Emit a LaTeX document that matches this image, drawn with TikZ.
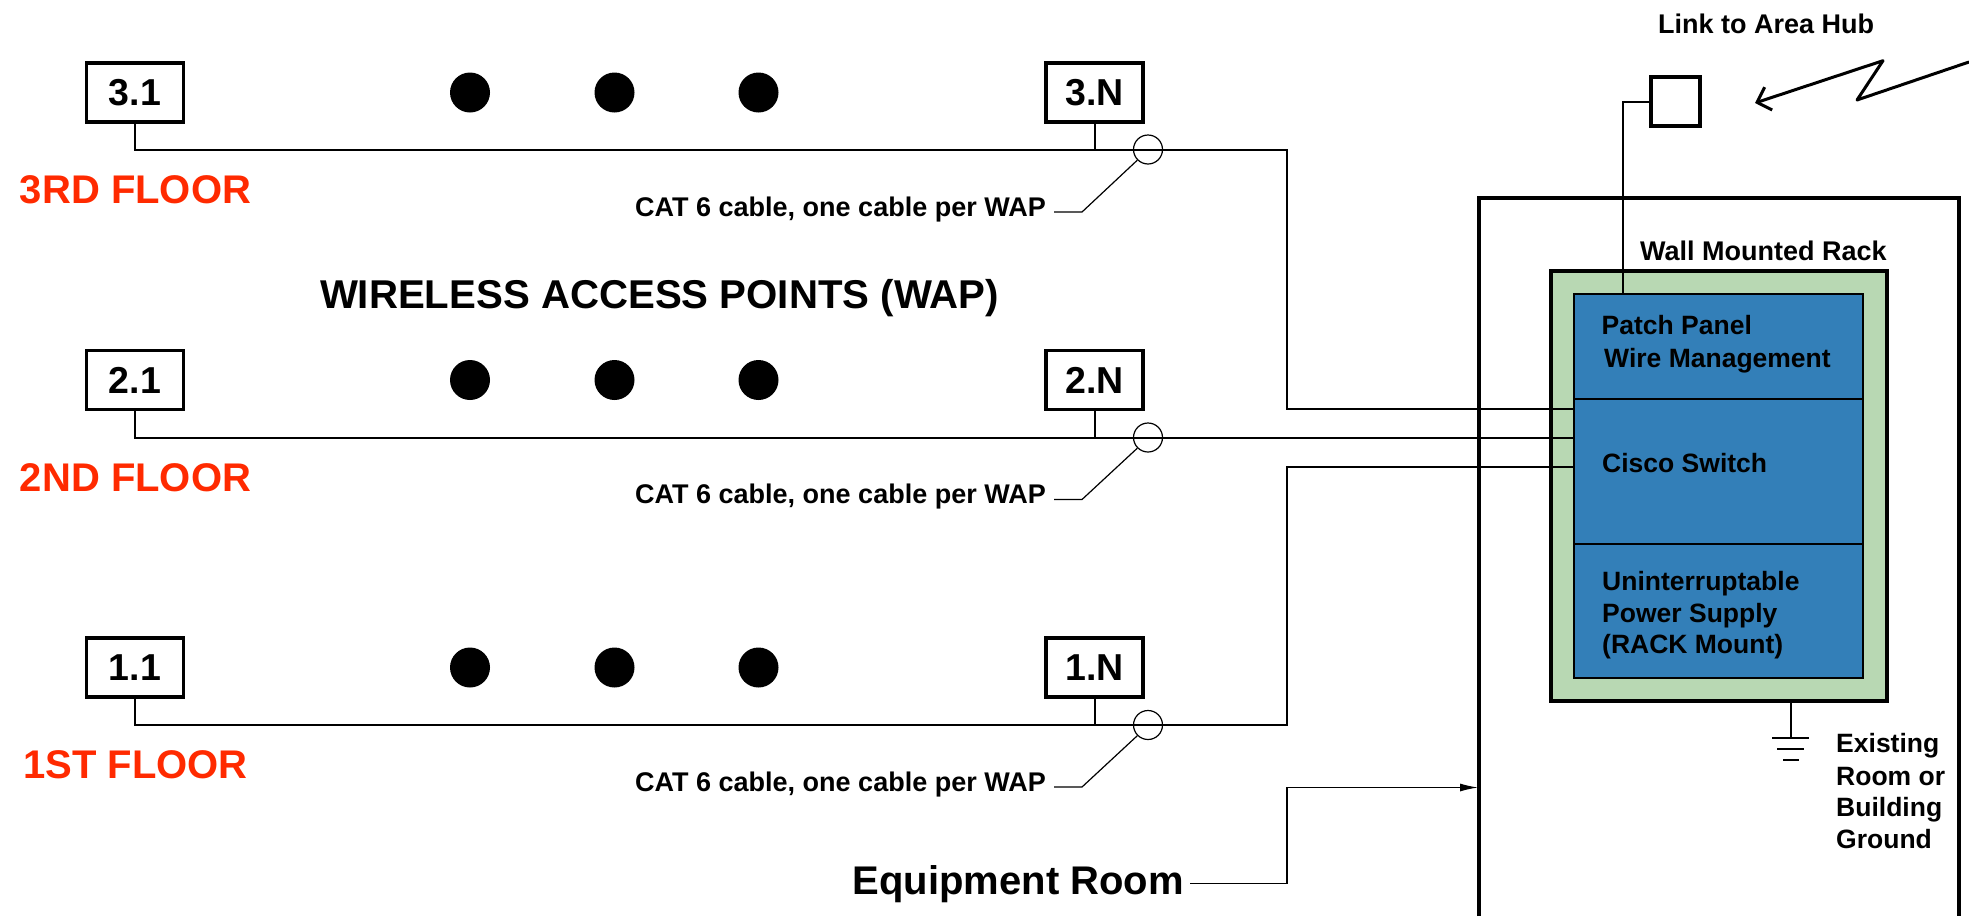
\documentclass[tikz,border=0pt]{standalone}
\usepackage{fontspec}
\setmainfont{Liberation Sans}
\usetikzlibrary{arrows.meta}
\definecolor{rackgreen}{RGB}{184,216,179}
\definecolor{panelblue}{RGB}{51,127,184}
\definecolor{floorred}{RGB}{255,42,0}
\tikzset{
  wapbox/.style={draw,line width=3.5pt,fill=white,minimum width=97pt,minimum height=59pt,inner sep=0pt,font=\fontsize{37.5}{37.5}\selectfont\bfseries},
  floorlabel/.style={anchor=base,inner sep=0pt,text=floorred,font=\fontsize{40}{40}\selectfont\bfseries},
  wapdot/.style={circle,fill=black,minimum size=40pt,inner sep=0pt},
  cablering/.style={circle,draw,line width=1.2pt,minimum size=29pt,inner sep=0pt},
  catlabel/.style={anchor=base east,inner sep=0pt,font=\fontsize{27}{27}\selectfont\bfseries},
  panelbox/.style={draw,line width=2pt,fill=panelblue,minimum width=289pt,inner sep=0pt,outer sep=0pt},
  smalllabel/.style={anchor=base west,inner sep=0pt,font=\fontsize{26.5}{26.5}\selectfont\bfseries},
  wire/.style={line width=2pt},
}
\begin{document}
\begin{tikzpicture}[x=1pt,y=-1pt]
\useasboundingbox (0,0) rectangle (1969,916);
% room and rack
\draw[line width=3.5pt] (1479,916) |- (1959,198) -- (1959,916);
\node[draw,line width=4pt,fill=rackgreen,minimum width=336.5pt,minimum height=430.5pt,inner sep=0pt,outer sep=0pt] (rack) at (1718.75,485.75) {};
\node[panelbox,minimum height=105pt] (patch) at (1718.5,346.5) {};
\node[panelbox,minimum height=145pt] (cisco) at (1718.5,471.5) {};
\node[panelbox,minimum height=134pt] (ups) at (1718.5,611) {};
\node[smalllabel] (patchtxt) at (1601.5,334.5) {Patch Panel};
\node[smalllabel] (wiretxt) at (1604,367) {Wire Management};
\node[smalllabel] (ciscotxt) at (1602,472) {Cisco Switch};
\node[smalllabel] (upstxt1) at (1602,590.5) {Uninterruptable};
\node[smalllabel] (upstxt2) at (1602,622) {Power Supply};
\node[smalllabel] (upstxt3) at (1602,653.5) {(RACK Mount)};
\node[smalllabel,font=\fontsize{27}{27}\selectfont\bfseries] (racktxt) at (1640,260.5) {Wall Mounted Rack};
% third floor
\node[wapbox] (w31) at (135,92.5) {3.1};
\node[wapbox] (w3n) at (1094.5,92.5) {3.N};
\node[wapdot] (d31) at (470,92.5) {};
\node[wapdot] (d32) at (614.5,92.5) {};
\node[wapdot] (d33) at (758.5,92.5) {};
\node[floorlabel] (f3) at (135.5,203) {3RD FLOOR};
\node[cablering] (r3) at (1148,149.5) {};
\node[catlabel] (c3) at (1046,216) {CAT 6 cable, one cable per WAP};
\coordinate (k3) at (1287,149.5);
\coordinate (s3) at (1574,409);
\coordinate (l3) at (1082,212);
\draw[wire] (w31.south) |- (k3) |- (s3);
\draw[wire] (w3n.south) -- (w3n.south |- k3);
\draw[line width=1.2pt] (r3.225) -- (l3) -- ([xshift=8pt]c3.east |- l3);
% second floor
\node[wapbox] (w21) at (135,380) {2.1};
\node[wapbox] (w2n) at (1094.5,380) {2.N};
\node[wapdot] (d21) at (470,380) {};
\node[wapdot] (d22) at (614.5,380) {};
\node[wapdot] (d23) at (758.5,380) {};
\node[floorlabel] (f2) at (135.5,491) {2ND FLOOR};
\node[cablering] (r2) at (1148,437.5) {};
\node[catlabel] (c2) at (1046,503.5) {CAT 6 cable, one cable per WAP};
\coordinate (s2) at (1574,437.5);
\coordinate (l2) at (1082,499.5);
\draw[wire] (w21.south) |- (s2);
\draw[wire] (w2n.south) -- (w2n.south |- s2);
\draw[line width=1.2pt] (r2.225) -- (l2) -- ([xshift=8pt]c2.east |- l2);
% first floor
\node[wapbox] (w11) at (135,667.5) {1.1};
\node[wapbox] (w1n) at (1094.5,667.5) {1.N};
\node[wapdot] (d11) at (470,667.5) {};
\node[wapdot] (d12) at (614.5,667.5) {};
\node[wapdot] (d13) at (758.5,667.5) {};
\node[floorlabel] (f1) at (135.5,778) {1ST FLOOR};
\node[cablering] (r1) at (1148,725) {};
\node[catlabel] (c1) at (1046,791) {CAT 6 cable, one cable per WAP};
\coordinate (k1) at (1287,725);
\coordinate (s1) at (1574,467);
\coordinate (l1) at (1082,787);
\draw[wire] (w11.south) |- (k1) |- (s1);
\draw[wire] (w1n.south) -- (w1n.south |- k1);
\draw[line width=1.2pt] (r1.225) -- (l1) -- ([xshift=8pt]c1.east |- l1);
\node[anchor=base,inner sep=0pt,font=\fontsize{40.2}{40.2}\selectfont\bfseries] (title) at (659.5,308) {WIRELESS ACCESS POINTS (WAP)};
% hub link
\node[draw,line width=3.5pt,minimum size=49pt,inner sep=0pt] (hub) at (1675.5,101.5) {};
\node[smalllabel,font=\fontsize{27}{27}\selectfont\bfseries] (hubtxt) at (1658,33) {Link to Area Hub};
\coordinate (drop) at (1622.7,294);
\draw[wire] (hub.west) -| (drop);
\coordinate (zig1) at (1883,60.7);
\coordinate (zig2) at (1857,100);
\coordinate (zig3) at (1969,62);
\coordinate (zig0) at (1755,103);
\draw[line width=3pt,line join=round,-{Straight Barb[length=12pt,width=24pt]}] (zig3) -- (zig2) -- (zig1) -- (zig0);
% ground
\coordinate (gnd) at (1790.7,737.7);
\draw[wire] (gnd |- rack.south) -- (gnd);
\draw[wire] (1772,737.7) -- (1809,737.7);
\draw[wire] (1777,748.7) -- (1804,748.7);
\draw[wire] (1783,759.7) -- (1799,759.7);
\node[smalllabel] (g1) at (1836,752.5) {Existing};
\node[smalllabel] (g2) at (1836,785) {Room or};
\node[smalllabel] (g3) at (1836,816.7) {Building};
\node[smalllabel] (g4) at (1836,848.3) {Ground};
% equipment room
\node[anchor=base east,inner sep=0pt,font=\fontsize{40}{40}\selectfont\bfseries] (eq) at (1184,894) {Equipment Room};
\coordinate (e1) at (1287,787.5);
\coordinate (e2) at (1478,787.5);
\draw[line width=1.2pt,-{Latex[length=18pt,width=8pt]}] ([xshift=6pt]eq.east) -| (e1) -- (e2);
\end{tikzpicture}
\end{document}
